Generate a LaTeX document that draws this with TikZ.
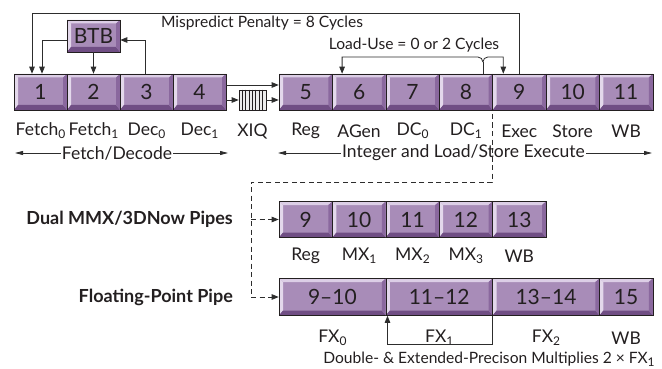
\documentclass[tikz,border=0pt]{standalone}
\usepackage{fontspec}
\setmainfont{Lato}
\usetikzlibrary{arrows.meta,calc}
\definecolor{face}{RGB}{168,140,184}
\definecolor{lite}{RGB}{220,206,230}
\definecolor{darkb}{RGB}{112,78,132}
\definecolor{midb}{RGB}{138,104,158}
\definecolor{ink}{RGB}{35,31,32}
\definecolor{ln}{RGB}{45,45,45}
\newcommand\subt[1]{\raisebox{-0.35ex}{\fontsize{12}{12}\selectfont #1}}
\begin{document}
\begin{tikzpicture}[x=1pt,y=-1pt,
  pbox/.style={draw=ink, line width=0.6pt, fill=face, inner sep=0pt, text=ink,
    minimum height=36pt, font=\fontsize{21}{21}\selectfont,
    path picture={
      \path (path picture bounding box.north west) coordinate (pnw)
            (path picture bounding box.north east) coordinate (pne)
            (path picture bounding box.south west) coordinate (psw)
            (path picture bounding box.south east) coordinate (pse);
      \fill[lite] (pnw) -- (pne) -- ($(pne)+(-4,3.5)$) -- ($(pnw)+(4,3.5)$) -- cycle;
      \fill[lite!80!white] (pnw) -- (psw) -- ($(psw)+(4,-5)$) -- ($(pnw)+(4,3.5)$) -- cycle;
      \fill[darkb] (psw) -- (pse) -- ($(pse)+(-4,-5)$) -- ($(psw)+(4,-5)$) -- cycle;
      \fill[midb] (pne) -- (pse) -- ($(pse)+(-4,-5)$) -- ($(pne)+(-4,3.5)$) -- cycle;
    }},
  lab/.style={text=ink, inner sep=0pt, font=\fontsize{17.5}{18}\selectfont},
  note/.style={text=ink, inner sep=0pt, font=\fontsize{15.6}{16}\selectfont},
  bold/.style={text=ink, inner sep=0pt, anchor=east, font=\fontsize{18}{18}\selectfont\bfseries},
  conn/.style={draw=ln, line width=0.8pt},
  arr/.style={conn, -{Triangle[length=7pt,width=5.5pt]}},
  dbl/.style={conn, {Triangle[length=8pt,width=4pt]}-{Triangle[length=8pt,width=4pt]}},
  dashln/.style={conn, dash pattern=on 5pt off 3.5pt}
]
\useasboundingbox[fill=white] (0,0) rectangle (662,369);

% ---------- row 1 ----------
\node[pbox, minimum width=53pt] (f1) at (40.5,92) {1};
\node[pbox, minimum width=53pt] (f2) at (93.5,92) {2};
\node[pbox, minimum width=53pt] (f3) at (146.5,92) {3};
\node[pbox, minimum width=53pt] (f4) at (199.5,92) {4};
\foreach \n/\i in {5/0,6/1,7/2,8/3,9/4,10/5,11/6}{
  \node[pbox, minimum width=53.4pt] (e\n) at ({305.7+53.4*\i},92) {\n};
}
% BTB
\node[pbox, minimum width=53pt, minimum height=32pt] (btb) at (93.5,36) {BTB};

% XIQ queue
\node[draw=ink, line width=0.6pt, fill=gray!15, minimum width=27pt, minimum height=20pt, inner sep=0pt] (xiq) at (252.5,100) {};
\foreach \k in {1,...,7}{
  \draw[ink, line width=0.6pt] ($(xiq.north west)+({3.375*\k},0)$) -- ($(xiq.south west)+({3.375*\k},0)$);
}
\draw[arr] (f4.east |- 0,85) -- (e5.west |- 0,85);
\draw[arr] (f4.east |- xiq.center) -- (xiq.west);
\draw[arr] (xiq.east) -- (e5.west |- xiq.center);

% labels row 1
\node[lab] (l1) at (40.5,131) {Fetch\subt{0}};
\node[lab] (l2) at (93.5,131) {Fetch\subt{1}};
\node[lab] (l3) at (146.5,131) {Dec\subt{0}};
\node[lab] (l4) at (199.5,131) {Dec\subt{1}};
\node[lab] (lx) at (252.5,131) {XIQ};
\node[lab] (l5) at (e5 |- 0,131) {Reg};
\node[lab] (l6) at (e6 |- 0,131) {AGen};
\node[lab] (l7) at (e7 |- 0,131) {DC\subt{0}};
\node[lab] (l8) at (e8 |- 0,131) {DC\subt{1}};
\node[lab] (l9) at (e9 |- 0,131) {Exec};
\node[lab] (l10) at (e10 |- 0,131) {Store};
\node[lab] (l11) at (e11 |- 0,131) {WB};

% span arrows
\coordinate (fdl) at (15,153);
\coordinate (fdr) at (228,153);
\draw[dbl] (fdl) -- (fdr);
\node[lab, fill=white, inner xsep=1pt, inner ysep=2pt] (fdt) at (117,153) {Fetch/Decode};
\coordinate (iel) at (278,153);
\coordinate (ier) at (652,153);
\draw[dbl] (iel) -- (ier);
\node[lab, fill=white, inner xsep=1pt, inner ysep=2pt] (iet) at (463.5,153) {Integer and Load/Store Execute};

% mispredict
\node[note] (mp) at (262,23) {Mispredict Penalty = 8 Cycles};
\draw[arr] (e9.north) -- (e9.north |- 0,13) -| ([xshift=-8.5pt]f1.north);
\draw[arr] (btb.west |- 0,40) -| ([xshift=1.5pt]f1.north);
\draw[arr] (btb.south) -- (f2.north);
\draw[arr] ([xshift=-1.5pt]f3.north) |- (btb.east |- 0,40);

% load-use
\node[note] (lu) at (414,45) {Load-Use = 0 or 2 Cycles};
\coordinate (jn) at ([xshift=17pt]e8.north |- 0,62);
\draw[conn] ([xshift=17pt]e8.north) -- (jn);
\draw[arr] (jn) to[out=90,in=0] ($(jn)+(-5,-5)$) -- ([xshift=-17pt]e6.north |- 0,57) -- ([xshift=-17pt]e6.north);
\draw[arr] (jn) to[out=90,in=180] ($(jn)+(5,-5)$) -- ([xshift=-16pt]e9.north |- 0,57) -- ([xshift=-16pt]e9.north);

% ---------- row 2 ----------
\foreach \n/\i in {9/0,10/1,11/2,12/3,13/4}{
  \node[pbox, minimum width=53.4pt] (m\n) at ({305.7+53.4*\i},219.5) {\n};
}
\node[lab] (r1) at (m9 |- 0,256) {Reg};
\node[lab] (r2) at (m10 |- 0,256) {MX\subt{1}};
\node[lab] (r3) at (m11 |- 0,256) {MX\subt{2}};
\node[lab] (r4) at (m12 |- 0,256) {MX\subt{3}};
\node[lab] (r5) at (m13 |- 0,256) {WB};
\node[bold] (dual) at (233,219.5) {Dual MMX/3DNow Pipes};

% ---------- row 3 ----------
\node[pbox, minimum width=106.8pt, minimum height=37pt] (p1) at (332.4,297) {9–10};
\node[pbox, minimum width=106.8pt, minimum height=37pt] (p2) at (439.2,297) {11–12};
\node[pbox, minimum width=106.8pt, minimum height=37pt] (p3) at (546,297) {13–14};
\node[pbox, minimum width=53.4pt, minimum height=37pt] (p4) at (626.1,297) {15};
\node[lab] (q1) at (p1 |- 0,338) {FX\subt{0}};
\node[lab] (q2) at (p2 |- 0,338) {FX\subt{1}};
\node[lab] (q3) at (p3 |- 0,338) {FX\subt{2}};
\node[lab] (q4) at (p4 |- 0,338) {WB};
\node[bold] (fpp) at (233,297) {Floating-Point Pipe};
\draw[arr] (p3.south west) -- ++(0,29) -| ([xshift=2pt]p2.south west);
\node[note] (dx) at (489,359) {Double- \& Extended-Precison Multiplies 2 × FX\subt{1}};

% dashed issue lines
\coordinate (dtop) at (e9.south west |- 0,114);
\coordinate (dc1) at (e9.south west |- 0,182);
\coordinate (dc2) at (251,182);
\coordinate (dc3) at (251,297);
\draw[dashln] (dtop) -- (dc1) -- (dc2) -- (dc3);
\draw[dashln, -{Triangle[length=7pt,width=5.5pt]}] (dc3) -- (p1.west);
\draw[dashln, -{Triangle[length=7pt,width=5.5pt]}] (dc2 |- m9.west) -- (m9.west);
\end{tikzpicture}
\end{document}
